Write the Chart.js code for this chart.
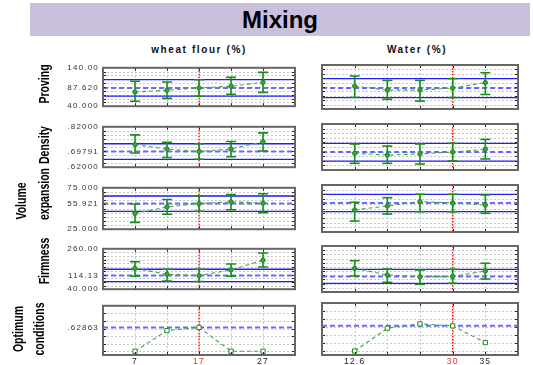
<!DOCTYPE html>
<html><head><meta charset="utf-8">
<script src="https://cdn.jsdelivr.net/npm/chart.js@4.4.1/dist/chart.umd.min.js"></script>
<style>
html,body{margin:0;padding:0;background:#fff;width:533px;height:365px;overflow:hidden;font-family:"Liberation Sans",Arial,sans-serif;}
.abs{position:absolute;}
#banner{left:30px;top:3px;width:500px;height:33px;background:#c9c0dc;font-weight:bold;font-size:24px;line-height:33px;text-align:center;color:#000;}
.colh{top:44px;font-weight:bold;font-size:10px;line-height:12px;letter-spacing:1.6px;transform:translateX(-50%);white-space:nowrap;color:#111;}
.rowl{font-weight:bold;font-size:14px;line-height:16px;white-space:nowrap;color:#000;transform:translate(-50%,-50%) rotate(-90deg) scaleX(0.75);}
canvas{position:absolute;}
</style></head><body>
<div id="banner" class="abs">Mixing</div>
<div id="stage"></div>
<script>
// ---------- data ----------
const flourLevels = [7, 12, 17, 22, 27];
const waterLevels = [12.6, 18.4, 24.2, 30, 35.8];
const flourTickText = ['7', '', '17', '', '27'];
const waterTickText = ['12.6', '', '', '30', '35'];
const flourRange = [2, 32];
const waterRange = [6.8, 41.6];
const flourOptimum = 17;
const waterOptimum = 30;
const factorTitles = ['wheat flour (%)', 'Water (%)'];

// Proving
const provingRange = [40, 140];
const provingStep = 10;
const provingCurrent = 87.62;
const provingLimits = [66, 109];
const provingTickText = ['40.000', '87.620', '140.00'];
const provingFlourMean = [77, 81.6, 87.62, 92, 102];
const provingFlourLow = [53, 60.5, 66, 71, 76];
const provingFlourHigh = [105, 103, 109, 115, 128];
const provingWaterMean = [92, 83, 83, 87.62, 100];
const provingWaterLow = [66.5, 62, 58, 66, 73];
const provingWaterHigh = [115, 105, 105, 109, 122.5];

// Density
const densityRange = [0.62, 0.82];
const densityStep = 0.02;
const densityCurrent = 0.69791;
const densityLimits = [0.659, 0.736];
const densityTickText = ['.62000', '.69791', '.82000'];
const densityFlourMean = [0.732, 0.710, 0.69791, 0.710, 0.746];
const densityFlourLow = [0.690, 0.668, 0.659, 0.672, 0.700];
const densityFlourHigh = [0.780, 0.743, 0.736, 0.747, 0.790];
const densityWaterMean = [0.6925, 0.685, 0.690, 0.69791, 0.710];
const densityWaterLow = [0.649, 0.649, 0.646, 0.659, 0.668];
const densityWaterHigh = [0.733, 0.724, 0.733, 0.736, 0.753];

// Volume expansion
const volumeRange = [25, 75];
const volumeStep = 5;
const volumeCurrent = 55.921;
const volumeLimits = [46.6, 65.1];
const volumeTickText = ['25.000', '55.921', '75.000'];
const volumeFlourMean = [44.1, 51.9, 55.921, 58, 56.6];
const volumeFlourLow = [33.2, 43.1, 46.6, 48.4, 44.9];
const volumeFlourHigh = [55.5, 60.9, 65.1, 66.8, 67.9];
const volumeWaterMean = [48.4, 52.7, 57.3, 55.921, 53.7];
const volumeWaterLow = [36.7, 44.1, 46.6, 46.6, 44.9];
const volumeWaterHigh = [56.6, 61.5, 65.1, 65.1, 64.4];

// Firmness
const firmnessRange = [40, 260];
const firmnessStep = 20;
const firmnessCurrent = 114.13;
const firmnessLimits = [81.6, 148.6];
const firmnessTickText = ['40.000', '114.13', '260.00'];
const firmnessFlourMean = [153.4, 121.3, 114.13, 145.2, 197.8];
const firmnessFlourLow = [110.3, 84.5, 81.6, 110.3, 161];
const firmnessFlourHigh = [189.7, 148.6, 148.6, 177.3, 237.5];
const firmnessWaterMean = [153.4, 121.3, 113, 114.13, 140.4];
const firmnessWaterLow = [116.5, 86.4, 76.8, 81.6, 102.2];
const firmnessWaterHigh = [189.7, 150, 145, 148.6, 177.3];

// Optimum conditions (desirability)
const desirRange = [-0.1, 1.2];
const desirStep = 0.2;
const desirCurrent = 0.62863;
const desirTickText = ['', '.62863', ''];
const desirFlour = [0, 0.545, 0.62863, 0, 0];
const desirWater = [0, 0.57, 0.678, 0.62863, 0.21];

const rowNames = [['Proving'], ['Density'], ['Volume', 'expansion'], ['Firmness'], ['Optimum', 'conditions']];

// ---------- build ----------
const rows = [
  {range: provingRange, step: provingStep, start: provingRange[0], current: provingCurrent, limits: provingLimits, text: provingTickText,
   series: [{mean: provingFlourMean, low: provingFlourLow, high: provingFlourHigh}, {mean: provingWaterMean, low: provingWaterLow, high: provingWaterHigh}]},
  {range: densityRange, step: densityStep, start: densityRange[0], current: densityCurrent, limits: densityLimits, text: densityTickText,
   series: [{mean: densityFlourMean, low: densityFlourLow, high: densityFlourHigh}, {mean: densityWaterMean, low: densityWaterLow, high: densityWaterHigh}]},
  {range: volumeRange, step: volumeStep, start: volumeRange[0], current: volumeCurrent, limits: volumeLimits, text: volumeTickText,
   series: [{mean: volumeFlourMean, low: volumeFlourLow, high: volumeFlourHigh}, {mean: volumeWaterMean, low: volumeWaterLow, high: volumeWaterHigh}]},
  {range: firmnessRange, step: firmnessStep, start: firmnessRange[0], current: firmnessCurrent, limits: firmnessLimits, text: firmnessTickText,
   series: [{mean: firmnessFlourMean, low: firmnessFlourLow, high: firmnessFlourHigh}, {mean: firmnessWaterMean, low: firmnessWaterLow, high: firmnessWaterHigh}]},
  {range: desirRange, step: desirStep, start: 0, current: desirCurrent, limits: null, text: desirTickText,
   series: [{mean: desirFlour}, {mean: desirWater}]}
];
const cols = [
  {levels: flourLevels, range: flourRange, optimum: flourOptimum, text: flourTickText},
  {levels: waterLevels, range: waterRange, optimum: waterOptimum, text: waterTickText}
];

// layout geometry
const ROW_TOP = [65, 124, 185, 246, 303];
const ROW_BOTTOM = [109, 170, 232, 292, 355];
const COL_LEFT = [103, 322];
const COL_RIGHT = [298, 521];
const CANVAS_LEFT = [40, 310];
const ROW_LABEL_POS = [[[44, 84]], [[44, 145]], [[21, 201], [44, 194]], [[44, 261]], [[18, 329], [39, 329]]];
const COL_HEAD_X = [199, 417];

function gridValues(start, range, step) {
  const out = [];
  for (let k = 0; ; k++) {
    const v = +(start + k * step).toFixed(6);
    if (v > range[1] + 1e-9) break;
    if (v > range[0] + 1e-9 && v < range[1] - 1e-9) out.push(v);
  }
  return out;
}

const GREEN = 'rgb(25,140,25)';
const LGREEN = 'rgb(70,165,70)';

const panelPlugin = {
  id: 'panel',
  beforeLayout(chart) { chart.ctx.letterSpacing = '1.2px'; },
  beforeDraw(chart) { chart.ctx.letterSpacing = '1.2px'; },
  beforeDatasetsDraw(chart) {
    const p = chart.options.plugins.panel;
    const ctx = chart.ctx, a = chart.chartArea, x = chart.scales.x, y = chart.scales.y;
    const ln = (x1, y1, x2, y2) => { ctx.beginPath(); ctx.moveTo(x1, y1); ctx.lineTo(x2, y2); ctx.stroke(); };
    ctx.save();
    ctx.beginPath(); ctx.rect(a.left, a.top, a.right - a.left, a.bottom - a.top); ctx.clip();
    // grid
    ctx.strokeStyle = '#c6c6c6'; ctx.lineWidth = 1; ctx.setLineDash([2, 2]);
    p.yGrid.forEach(v => { const py = Math.round(y.getPixelForValue(v)) + 0.5; ln(a.left, py, a.right, py); });
    p.levels.forEach(v => { const px = Math.round(x.getPixelForValue(v)) + 0.5; ln(px, a.top, px, a.bottom); });
    // limits
    if (p.limits) {
      ctx.setLineDash([]); ctx.strokeStyle = 'rgb(30,30,255)'; ctx.lineWidth = 1.3;
      p.limits.forEach(v => { const py = y.getPixelForValue(v); ln(a.left, py, a.right, py); });
    }
    ctx.setLineDash([5, 3]); ctx.strokeStyle = 'rgb(105,105,255)'; ctx.lineWidth = 2;
    { const py = y.getPixelForValue(p.current); ln(a.left, py, a.right, py); }
    // optimum
    ctx.setLineDash([1.5, 1.5]); ctx.strokeStyle = 'rgb(255,0,0)'; ctx.lineWidth = 1.3;
    { const px = x.getPixelForValue(p.optimum); ln(px, a.top, px, a.bottom); }
    // error bars
    if (p.low) {
      ctx.setLineDash([]); ctx.strokeStyle = GREEN; ctx.lineWidth = 1.6;
      p.levels.forEach((lv, i) => {
        const px = x.getPixelForValue(lv), yl = y.getPixelForValue(p.low[i]), yh = y.getPixelForValue(p.high[i]);
        ln(px, yl, px, yh); ln(px - 5, yl, px + 5, yl); ln(px - 5, yh, px + 5, yh);
      });
    }
    ctx.restore();
  },
  afterDatasetsDraw(chart) {
    const p = chart.options.plugins.panel;
    const ctx = chart.ctx, a = chart.chartArea, x = chart.scales.x, y = chart.scales.y;
    const ln = (x1, y1, x2, y2) => { ctx.beginPath(); ctx.moveTo(x1, y1); ctx.lineTo(x2, y2); ctx.stroke(); };
    ctx.save();
    ctx.setLineDash([]);
    ctx.strokeStyle = '#222'; ctx.lineWidth = 1;
    p.yGrid.forEach(v => { const py = Math.round(y.getPixelForValue(v)) + 0.5; ln(a.left, py, a.left + 3, py); ln(a.right - 3, py, a.right, py); });
    p.levels.forEach(v => { const px = Math.round(x.getPixelForValue(v)) + 0.5; ln(px, a.top, px, a.top + 3); ln(px, a.bottom - 3, px, a.bottom); });
    ctx.strokeStyle = '#666'; ctx.lineWidth = 2;
    ctx.strokeRect(a.left, a.top, a.right - a.left, a.bottom - a.top);
    ctx.restore();
  }
};

const stage = document.getElementById('stage');
rows.forEach((row, r) => {
  cols.forEach((col, c) => {
    const last = r === rows.length - 1;
    const top = ROW_TOP[r] - 6;
    const bottomEdge = last ? 375 : ROW_BOTTOM[r] + 6;
    const left = CANVAS_LEFT[c];
    const width = COL_RIGHT[c] + 2 - left;
    const height = bottomEdge - top;
    const yAxisW = COL_LEFT[c] - left;
    const xAxisH = last ? 375 - ROW_BOTTOM[r] : 0;
    const cv = document.createElement('canvas');
    cv.width = width; cv.height = height;
    cv.style.left = left + 'px'; cv.style.top = top + 'px';
    cv.style.width = width + 'px'; cv.style.height = height + 'px';
    stage.appendChild(cv);
    const s = row.series[c];
    const yGrid = gridValues(row.start, row.range, row.step);
    const yTicks = [row.range[0], ...yGrid, row.current, row.range[1]].sort((a, b) => a - b);
    new Chart(cv, {
      type: 'line',
      data: {
        datasets: [{
          data: col.levels.map((lv, i) => ({x: lv, y: s.mean[i]})),
          borderColor: LGREEN, borderWidth: 1.1, borderDash: [4, 3],
          pointStyle: last ? 'rect' : 'circle',
          pointRadius: last ? 3 : 2.2,
          pointBackgroundColor: last ? '#fff' : 'rgb(60,160,60)',
          pointBorderColor: GREEN, pointBorderWidth: 1,
          tension: 0
        }]
      },
      options: {
        responsive: false, animation: false, devicePixelRatio: 1,
        layout: {padding: {top: 6, bottom: last ? 0 : 6, left: 0, right: 2}},
        plugins: {
          legend: {display: false}, tooltip: {enabled: false}, title: {display: false},
          panel: {yGrid, levels: col.levels, limits: row.limits, current: row.current, optimum: col.optimum, low: s.low, high: s.high}
        },
        scales: {
          x: {
            type: 'linear', min: col.range[0], max: col.range[1],
            grid: {display: false, drawTicks: false}, border: {display: false},
            afterBuildTicks: sc => { sc.ticks = col.levels.map(v => ({value: v})); },
            afterFit: sc => { sc.height = xAxisH; },
            ticks: {
              display: last, padding: 2, maxRotation: 0, autoSkip: false,
              font: {size: 8.5, family: 'Liberation Sans'},
              color: cx => (cx.tick && cx.tick.value === col.optimum) ? 'rgb(255,40,40)' : '#222',
              callback: v => { const i = col.levels.indexOf(v); return i >= 0 ? col.text[i] : ''; }
            }
          },
          y: {
            type: 'linear', min: row.range[0], max: row.range[1],
            grid: {display: false, drawTicks: false}, border: {display: false},
            afterBuildTicks: sc => { sc.ticks = yTicks.map(v => ({value: v})); },
            afterFit: sc => { sc.width = yAxisW; },
            ticks: {
              display: c === 0, padding: 4, autoSkip: false,
              font: {size: 8, family: 'Liberation Sans'}, color: '#333',
              callback: v => {
                if (Math.abs(v - row.range[0]) < 1e-9) return row.text[0];
                if (Math.abs(v - row.current) < 1e-9) return row.text[1];
                if (Math.abs(v - row.range[1]) < 1e-9) return row.text[2];
                return '';
              }
            }
          }
        }
      },
      plugins: [panelPlugin]
    });
  });
});

// text labels
factorTitles.forEach((t, c) => {
  const d = document.createElement('div');
  d.className = 'abs colh'; d.textContent = t;
  d.style.left = COL_HEAD_X[c] + 'px';
  document.body.appendChild(d);
});
rowNames.forEach((lines, r) => {
  lines.forEach((t, k) => {
    const d = document.createElement('div');
    d.className = 'abs rowl'; d.textContent = t;
    d.style.left = ROW_LABEL_POS[r][k][0] + 'px';
    d.style.top = ROW_LABEL_POS[r][k][1] + 'px';
    document.body.appendChild(d);
  });
});
</script>
</body></html>
